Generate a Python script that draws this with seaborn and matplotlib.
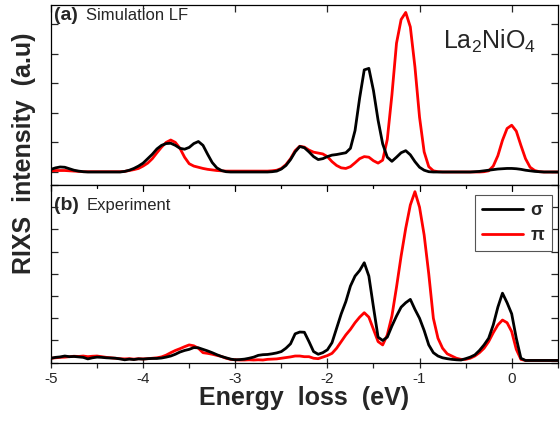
import matplotlib
matplotlib.use("Agg")
import matplotlib.pyplot as plt
import numpy as np
import pandas as pd
import seaborn as sns
from matplotlib.lines import Line2D
from matplotlib.ticker import MultipleLocator

# energy grid (eV), shared by every curve
energy = np.round(np.arange(-5.0, 0.5001, 0.05), 2)

# (a) simulation LF
sim_sigma = [
    0.09, 0.14, 0.17, 0.16, 0.11, 0.06, 0.03, 0.01, 0.0, 0.0,
    0.0, 0.0, 0.0, 0.0, 0.0, 0.0, 0.02, 0.06, 0.12, 0.20,
    0.30, 0.45, 0.60, 0.78, 0.90, 0.96, 0.97, 0.90, 0.80, 0.77,
    0.83, 0.96, 1.03, 0.90, 0.60, 0.32, 0.14, 0.05, 0.01, 0.0,
    0.0, 0.0, 0.0, 0.0, 0.0, 0.0, 0.0, 0.0, 0.01, 0.03,
    0.10, 0.22, 0.42, 0.68, 0.86, 0.82, 0.68, 0.52, 0.42, 0.45,
    0.52, 0.57, 0.59, 0.62, 0.65, 0.80, 1.40, 2.50, 3.45, 3.50,
    2.75, 1.75, 0.95, 0.50, 0.36, 0.50, 0.65, 0.72, 0.58, 0.35,
    0.16, 0.06, 0.01, 0.0, 0.0, 0.0, 0.0, 0.0, 0.0, 0.0,
    0.0, 0.0, 0.01, 0.02, 0.04, 0.06, 0.08, 0.10, 0.11, 0.12,
    0.12, 0.11, 0.09, 0.06, 0.04, 0.02, 0.01, 0.0, 0.0, 0.0,
    0.0,
]
sim_pi = [
    0.04, 0.05, 0.05, 0.05, 0.04, 0.03, 0.02, 0.01, 0.01, 0.01,
    0.01, 0.01, 0.01, 0.01, 0.01, 0.01, 0.02, 0.05, 0.08, 0.12,
    0.20, 0.30, 0.45, 0.65, 0.84, 1.00, 1.08, 1.00, 0.80, 0.50,
    0.28, 0.20, 0.16, 0.12, 0.09, 0.07, 0.05, 0.04, 0.03, 0.03,
    0.03, 0.03, 0.03, 0.03, 0.03, 0.03, 0.03, 0.03, 0.04, 0.06,
    0.12, 0.25, 0.45, 0.72, 0.87, 0.84, 0.74, 0.67, 0.64, 0.61,
    0.52, 0.35, 0.22, 0.14, 0.12, 0.18, 0.31, 0.45, 0.52, 0.50,
    0.38, 0.30, 0.40, 1.10, 2.60, 4.35, 5.15, 5.39, 4.90, 3.55,
    1.85, 0.68, 0.18, 0.04, 0.01, 0.0, 0.0, 0.0, 0.0, 0.0,
    0.0, 0.0, 0.0, 0.0, 0.01, 0.04, 0.20, 0.55, 1.07, 1.47,
    1.58, 1.38, 0.90, 0.45, 0.16, 0.05, 0.01, 0.0, 0.0, 0.0,
    0.0,
]

# (b) experiment
exp_sigma = [
    0.20, 0.24, 0.26, 0.30, 0.27, 0.28, 0.26, 0.24, 0.17, 0.22,
    0.25, 0.24, 0.22, 0.21, 0.20, 0.17, 0.13, 0.16, 0.14, 0.17,
    0.16, 0.18, 0.19, 0.19, 0.21, 0.25, 0.30, 0.38, 0.48, 0.55,
    0.60, 0.68, 0.67, 0.60, 0.53, 0.45, 0.36, 0.28, 0.22, 0.16,
    0.13, 0.14, 0.16, 0.20, 0.25, 0.33, 0.36, 0.37, 0.40, 0.44,
    0.50, 0.65, 0.85, 1.30, 1.38, 1.37, 0.95, 0.50, 0.38, 0.45,
    0.58, 0.90, 1.55, 2.20, 2.75, 3.45, 3.90, 4.15, 4.50, 3.90,
    2.50, 1.15, 1.00, 1.15, 1.65, 2.10, 2.50, 2.70, 2.85, 2.40,
    2.00, 1.45, 0.80, 0.45, 0.30, 0.22, 0.18, 0.15, 0.13, 0.12,
    0.18, 0.25, 0.35, 0.55, 0.80, 1.10, 1.70, 2.50, 3.13, 2.70,
    2.20, 1.10, 0.20, 0.10, 0.10, 0.10, 0.10, 0.10, 0.10, 0.10,
    0.10,
]
exp_pi = [
    0.20, 0.22, 0.24, 0.25, 0.27, 0.29, 0.28, 0.30, 0.27, 0.29,
    0.30, 0.27, 0.24, 0.22, 0.20, 0.18, 0.17, 0.18, 0.16, 0.18,
    0.17, 0.18, 0.20, 0.22, 0.26, 0.34, 0.45, 0.55, 0.63, 0.72,
    0.80, 0.76, 0.65, 0.45, 0.42, 0.38, 0.33, 0.28, 0.20, 0.15,
    0.13, 0.12, 0.12, 0.13, 0.12, 0.13, 0.12, 0.15, 0.16, 0.17,
    0.20, 0.23, 0.26, 0.30, 0.30, 0.27, 0.27, 0.20, 0.18, 0.25,
    0.32, 0.42, 0.65, 0.95, 1.25, 1.50, 1.80, 2.05, 2.25, 2.05,
    1.50, 0.95, 0.80, 1.25, 2.10, 3.40, 4.80, 6.05, 7.10, 7.70,
    7.00, 5.75, 4.00, 2.00, 1.10, 0.65, 0.40, 0.30, 0.20, 0.15,
    0.15, 0.20, 0.30, 0.45, 0.65, 0.95, 1.35, 1.70, 1.92, 1.80,
    1.40, 0.60, 0.15, 0.10, 0.10, 0.10, 0.10, 0.10, 0.10, 0.10,
    0.10,
]

xticks = [-5, -4, -3, -2, -1, 0]
xticklabels = ["-5", "-4", "-3", "-2", "-1", "0"]

sns.set_style("ticks")
plt.rcParams["font.family"] = ["Liberation Sans", "DejaVu Sans"]
plt.rcParams["mathtext.fontset"] = "custom"
plt.rcParams["mathtext.rm"] = "Liberation Sans"

RED = "#ff0000"
LW = 2.0

fig = plt.figure(figsize=(5.6, 4.23), dpi=100)
ax1 = fig.add_axes([0.091, 0.5626, 0.905, 0.4255])
ax2 = fig.add_axes([0.091, 0.1426, 0.905, 0.4200])

sns.lineplot(x=energy, y=sim_pi, ax=ax1, color=RED, lw=LW, errorbar=None)
sns.lineplot(x=energy, y=sim_sigma, ax=ax1, color="black", lw=LW, errorbar=None)
sns.lineplot(x=energy, y=exp_pi, ax=ax2, color=RED, lw=LW, errorbar=None)
sns.lineplot(x=energy, y=exp_sigma, ax=ax2, color="black", lw=LW, errorbar=None)

for ax in (ax1, ax2):
    ax.set_xlim(-5, 0.5)
    for sp in ax.spines.values():
        sp.set_visible(True)
        sp.set_linewidth(0.9)
        sp.set_color("black")
    ax.set_xticks(xticks)
    ax.set_ylabel("")
    ax.set_xlabel("")

ax1.set_ylim(-0.44, 5.64)
ax1.set_yticks([0, 1, 2, 3, 4, 5])
ax1.tick_params(axis="x", which="both", direction="in", top=True, bottom=False,
                labelbottom=False, length=5, width=0.9)
ax1.tick_params(axis="y", direction="in", left=True, right=True,
                labelleft=False, length=5, width=0.9)

ax2.set_ylim(0, 8)
ax2.set_yticks(range(0, 9))
ax2.xaxis.set_minor_locator(MultipleLocator(0.5))
ax2.set_xticklabels(xticklabels, fontsize=11)
ax2.tick_params(axis="x", which="major", direction="inout", top=False, bottom=True,
                length=7, width=0.9, pad=3)
ax2.tick_params(axis="x", which="minor", direction="out", top=False, bottom=True,
                length=3.5, width=0.9)
ax2.tick_params(axis="y", direction="in", left=True, right=True,
                labelleft=False, length=5, width=0.9)
# inward ticks along the shared edge
for xv in np.arange(-5, 0.51, 0.5):
    ax2.plot([xv, xv], [8, 7.75 if xv % 1 == 0 else 7.85], color="black", lw=0.9,
             clip_on=False)

ax2.set_xlabel("Energy  loss  (eV)", fontsize=18, fontweight="bold", labelpad=0)
fig.text(0.042, 0.638, "RIXS  intensity  (a.u)", rotation=90, fontsize=18,
         fontweight="bold", ha="center", va="center")

ax1.text(0.006, 0.94, "(a)", transform=ax1.transAxes, fontsize=14,
         fontweight="bold", va="center")
ax1.text(0.07, 0.94, "Simulation LF", transform=ax1.transAxes, fontsize=12,
         va="center")
ax2.text(0.006, 0.885, "(b)", transform=ax2.transAxes, fontsize=14,
         fontweight="bold", va="center")
ax2.text(0.07, 0.885, "Experiment", transform=ax2.transAxes, fontsize=12,
         va="center")
ax1.text(0.865, 0.80, r"La$_\mathregular{2}$NiO$_\mathregular{4}$",
         transform=ax1.transAxes, fontsize=18, ha="center", va="center")

handles = [Line2D([], [], color="black", lw=LW), Line2D([], [], color=RED, lw=LW)]
leg = ax2.legend(handles, ["σ", "π"], loc="upper right",
                 bbox_to_anchor=(0.988, 0.945), prop={"size": 13, "weight": "bold"},
                 frameon=True, fancybox=False, edgecolor="#555555", framealpha=1,
                 handlelength=2.3, handletextpad=0.4, borderpad=0.4,
                 labelspacing=0.45, borderaxespad=0)
leg.get_frame().set_linewidth(0.8)

fig.savefig("out.png", dpi=100)
